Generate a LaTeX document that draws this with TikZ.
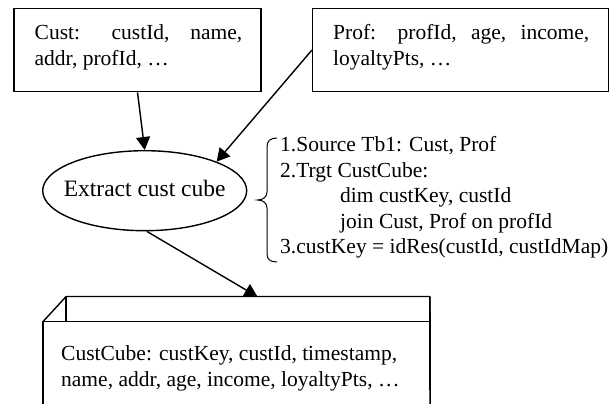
\documentclass[tikz,border=0pt]{standalone}
\usepackage{fontspec}
\setmainfont{Liberation Serif}
\usetikzlibrary{arrows.meta,shapes.geometric}
\begin{document}
\begin{tikzpicture}[x=1pt,y=-1pt,
  box/.style={draw, line width=1.4pt, inner sep=0pt, minimum height=83.4pt},
  txt/.style={anchor=north west, inner sep=0pt, align=left,
              font=\fontsize{21.5}{25.5}\selectfont},
  arr/.style={line width=1.4pt, -{Triangle[length=13pt,width=14pt]}},
  edge/.style={line width=1.4pt, line join=miter}
]
\useasboundingbox (0,0) rectangle (611,404);

% source tables
\node[box, minimum width=247pt]   (cust) at (137.5,50) {};
\node[box, minimum width=295.6pt] (prof) at (460.5,50) {};
\node[txt] (custtxt) at (34.5,21.5)
  {\strut\makebox[207.5pt][s]{Cust: custId, name,}\\addr, profId, …};
\node[txt] (proftxt) at (333,21.5)
  {\strut\makebox[256pt][s]{Prof: profId, age, income,}\\loyaltyPts, …};

% extraction step
\node[draw, ellipse, line width=1.4pt, inner sep=0pt,
      minimum width=204pt, minimum height=80pt,
      text height=16pt, text depth=4pt,
      font=\fontsize{23.5}{28}\selectfont] (ell) at (144.7,190.7)
  {\makebox[0pt]{Extract cust cube}};

% rules of the step
\draw[line width=1pt] (277,138) .. controls (270,138) and (267,141) .. (267,147)
  -- (267,192) .. controls (267,197) and (263,200) .. (257.5,200)
  .. controls (263,200) and (267,203) .. (267,208)
  -- (267,254) .. controls (267,259) and (270,262) .. (277,262);
\node[txt] (rules) at (280,133.9)
  {\strut 1.Source Tb1: Cust, Prof\\
   2.Trgt CustCube:\\
   \hspace*{60pt}dim custKey, custId\\
   \hspace*{60pt}join Cust, Prof on profId\\
   3.custKey = idRes(custId, custIdMap)};

% target cube
\node[inner sep=0pt, minimum width=386.7pt, minimum height=84.3pt] (cube)
  at (236.65,363.85) {};
\draw[edge] (cube.north west) rectangle (cube.south east);
\draw[edge] (cube.north west) -- ++(23,-25) coordinate (bl)
  -- ++(363.7,0) coordinate (br) -- (cube.north east);
\draw[edge] (br) -- ++(0,84.3) coordinate (bb) -- (cube.south east);
\draw[edge] (bl) -- (cube.north west -| bl);
\draw[edge] (bb) -- (bb -| cube.east);
\coordinate (cubein) at (257.5,296.7);
\node[txt] (cubetxt) at (61,342.6)
  {\strut CustCube: custKey, custId, timestamp,\\
   name, addr, age, income, loyaltyPts, …};

% connectors
\draw[arr] (cust.south) -- (ell.north);
\draw[arr] (prof.west) -- (ell.22);
\draw[arr] (ell.-87) -- (cubein);
\end{tikzpicture}
\end{document}
